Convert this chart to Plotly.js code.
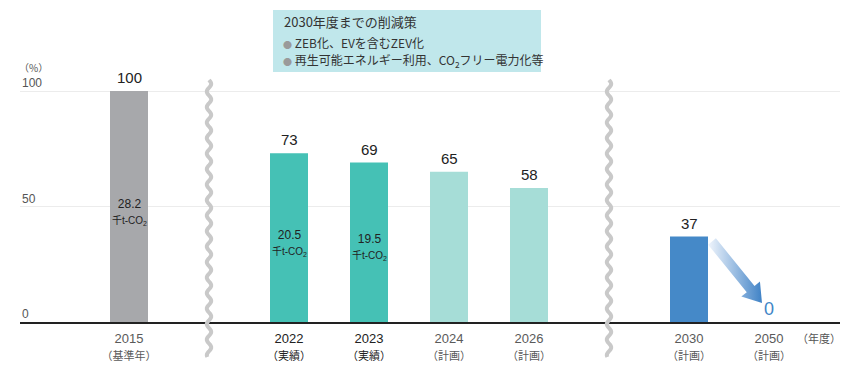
<!DOCTYPE html>
<html>
<head>
<meta charset="utf-8">
<script src="https://cdn.plot.ly/plotly-3.0.1.min.js"></script>
<style>html,body{margin:0;padding:0;background:#fff;}#chart{width:860px;height:372px;}</style>
</head>
<body>
<div id="chart"></div>
<script>
// ---- data ----
const groups = [["2015"], ["2022", "2023", "2024", "2026"], ["2030", "2050"]];
const values = { "2015": 100, "2022": 73, "2023": 69, "2024": 65, "2026": 58, "2030": 37, "2050": 0 };
const subLabels = { "2015": "（基準年）", "2022": "（実績）", "2023": "（実績）", "2024": "（計画）", "2026": "（計画）", "2030": "（計画）", "2050": "（計画）" };
const emissions = { "2015": "28.2", "2022": "20.5", "2023": "19.5" };
const emissionUnit = "千t-CO<sub>2</sub>";
const barColors = { "2015": "#a7a8ab", "2022": "#45c1b5", "2023": "#45c1b5", "2024": "#a6ddd7", "2026": "#a6ddd7", "2030": "#4589c8", "2050": "#4589c8" };
const yTicks = [0, 50, 100];
const boxTitle = "2030年度までの削減策";
const boxItems = ["ZEB化、EVを含むZEV化", "再生可能エネルギー利用、CO<sub>2</sub>フリー電力化等"];

// ---- layout constants ----
const W = 860, H = 372;
const M = { l: 20, r: 20, t: 80, b: 50 };
const plotW = W - M.l - M.r, plotH = H - M.t - M.b;
const xRange = [-1.3625, 8.8875];
const yRange = [0, 104.76];
const barW = 0.475;
const pxPerX = plotW / (xRange[1] - xRange[0]);
const pxPerY = plotH / (yRange[1] - yRange[0]);

// positions: one empty slot between groups (axis break)
const cats = [], pos = {}, breaks = [];
let p = 0;
groups.forEach((g, gi) => {
  if (gi > 0) { breaks.push(p); p += 1; }
  g.forEach(c => { cats.push(c); pos[c] = p; p += 1; });
});

const xs = cats.map(c => pos[c]);
const ys = cats.map(c => values[c]);

const traces = [{
  type: "bar", x: xs, y: ys, width: barW,
  marker: { color: cats.map(c => barColors[c]) },
  hoverinfo: "skip", showlegend: false
}];

// arrow from 2030 bar to 2050 (decoration, anchored to data)
(function () {
  const a = "2030", b = "2050";
  const toPx = (x, y) => [x * pxPerX, -y * pxPerY];
  const toData = (px, py) => [px / pxPerX, -py / pxPerY];
  const [sx0, sy0] = toPx(pos[a] + barW / 2, values[a]);
  const S = [sx0 + 4, sy0 + 5];
  const [tx0, ty0] = toPx(pos[b], values[b]);
  const T = [tx0 - 7, ty0 - 19];
  const dx = T[0] - S[0], dy = T[1] - S[1];
  const L = Math.hypot(dx, dy);
  const d = [dx / L, dy / L], n = [d[1], -d[0]];
  const hl = 18, hw = 12, sw = 5;
  const B = [T[0] - hl * d[0], T[1] - hl * d[1]];
  const pts = [
    [S[0] + sw * n[0], S[1] + sw * n[1]],
    [B[0] + sw * n[0], B[1] + sw * n[1]],
    [B[0] + hw * n[0], B[1] + hw * n[1]],
    T,
    [B[0] - hw * n[0], B[1] - hw * n[1]],
    [B[0] - sw * n[0], B[1] - sw * n[1]],
    [S[0] - sw * n[0], S[1] - sw * n[1]],
    [S[0] + sw * n[0], S[1] + sw * n[1]]
  ].map(q => toData(q[0], q[1]));
  traces.push({
    type: "scatter", mode: "lines", x: pts.map(q => q[0]), y: pts.map(q => q[1]),
    fill: "toself", line: { width: 0, color: "rgba(0,0,0,0)" },
    fillgradient: { type: "horizontal", colorscale: [[0, "rgba(240,245,252,1)"], [0.55, "#91b7df"], [1, "#3f82c6"]] },
    hoverinfo: "skip", showlegend: false
  });
})();

const numFont = "Liberation Sans, Arial, Noto Sans CJK JP, sans-serif";
const jpFont = "Noto Sans CJK JP, Liberation Sans, sans-serif";

const pxToPaperX = px => (px - M.l) / plotW;
const pxToPaperY = py => (M.t + plotH - py) / plotH;

const annotations = [];
// y tick labels (above gridlines, at the left)
yTicks.forEach(v => {
  annotations.push({
    x: 0, y: v, xref: "paper", yref: "y", text: String(v), showarrow: false,
    xanchor: "left", yanchor: "bottom", xshift: 0, yshift: -1,
    font: { family: numFont, size: 12, color: "#555" }
  });
});
// value labels
cats.forEach(c => {
  const is0 = values[c] === 0;
  annotations.push({
    x: pos[c], y: values[c], xref: "x", yref: "y", text: String(values[c]),
    showarrow: false, yanchor: "bottom", yshift: is0 ? 1 : 3,
    font: { family: numFont, size: is0 ? 18 : 15, color: is0 ? "#3f86c6" : "#222" }
  });
});
// inside labels
Object.keys(emissions).forEach(c => {
  annotations.push({
    x: pos[c], y: values[c] / 2, xref: "x", yref: "y",
    text: emissions[c] + "<br><span style='font-size:10px'>" + emissionUnit + "</span>",
    showarrow: false, yanchor: "middle", yshift: -5,
    font: { family: numFont, size: 12, color: "#222" }
  });
});
// (%) and (年度)
annotations.push({ x: pxToPaperX(17), y: pxToPaperY(67), xref: "paper", yref: "paper", text: "（%）", showarrow: false, xanchor: "left", yanchor: "middle", font: { family: jpFont, size: 10, color: "#555" } });
annotations.push({ x: pxToPaperX(843), y: pxToPaperY(338), xref: "paper", yref: "paper", text: "（年度）", showarrow: false, xanchor: "right", yanchor: "middle", font: { family: jpFont, size: 11, color: "#555" } });
// box text
annotations.push({ x: pxToPaperX(282), y: pxToPaperY(22), xref: "paper", yref: "paper", text: boxTitle, showarrow: false, xanchor: "left", yanchor: "middle", font: { family: jpFont, size: 13, color: "#333" } });
boxItems.forEach((t, i) => {
  annotations.push({ x: pxToPaperX(281), y: pxToPaperY(43 + i * 17), xref: "paper", yref: "paper",
    text: "<span style='color:#9a9a9a;font-size:9px'>●</span> " + t, showarrow: false, xanchor: "left", yanchor: "middle",
    font: { family: jpFont, size: 12, color: "#333" } });
});

const shapes = [];
shapes.push({ type: "rect", xref: "paper", yref: "paper", x0: pxToPaperX(273), x1: pxToPaperX(541), y0: pxToPaperY(72), y1: pxToPaperY(10), fillcolor: "#c0e7eb", line: { width: 0 }, layer: "below" });
// wavy break lines
breaks.forEach(b => {
  const cx = M.l + (b - xRange[0]) * pxPerX;
  let path = "";
  for (let py = 80; py <= 357; py += 1) {
    const px = cx + 2.2 * Math.sin((py - 80) / 15.5 * 2 * Math.PI);
    path += (py === 80 ? "M" : "L") + pxToPaperX(px).toFixed(5) + "," + pxToPaperY(py).toFixed(5);
  }
  shapes.push({ type: "path", xref: "paper", yref: "paper", path: path, line: { color: "#c9c9c9", width: 4 }, layer: "above" });
});

const tickText = cats.map(c => {
  const dark = (c === "2022" || c === "2023");
  const col = dark ? "#222" : "#5a5a5a";
  return "<span style='color:" + col + "'>" + c + "</span><br><span style='color:" + col + ";font-size:11px'>" + subLabels[c] + "</span>";
});

const layout = {
  width: W, height: H, margin: M,
  paper_bgcolor: "#fff", plot_bgcolor: "#fff",
  showlegend: false,
  xaxis: {
    type: "linear", range: xRange, tickvals: xs, ticktext: tickText,
    showgrid: false, zeroline: false, showline: true, linecolor: "#222", linewidth: 1.5,
    ticks: "", ticklabelstandoff: 4, tickfont: { family: numFont, size: 13, color: "#5a5a5a" }, fixedrange: true
  },
  yaxis: {
    range: yRange, tickvals: yTicks, showticklabels: false,
    showgrid: true, gridcolor: "#ececec", gridwidth: 1,
    zeroline: false, showline: false, ticks: "", fixedrange: true
  },
  annotations: annotations,
  shapes: shapes
};

Plotly.newPlot("chart", traces, layout, { displayModeBar: false, staticPlot: true });
</script>
</body>
</html>
